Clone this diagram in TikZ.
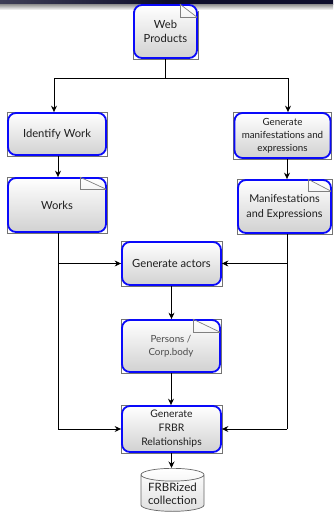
\documentclass[tikz,border=0pt]{standalone}
\usepackage{fontspec}
\setmainfont{Lato}
\usetikzlibrary{arrows.meta,shapes.geometric,backgrounds}

\definecolor{boxblue}{RGB}{10,10,250}
\definecolor{barnavy}{RGB}{14,14,44}
\definecolor{txt}{RGB}{30,30,30}

\tikzset{
  flowbox/.style={
    draw=boxblue, line width=1.8pt, rounded corners=8pt,
    top color=white, bottom color=black!18,
    text=txt, align=center, inner sep=1pt
  },
  boxframe/.style={draw=black!55, line width=0.6pt},
  foldline/.style={draw=black!50, line width=0.7pt},
  wire/.style={draw=black, line width=0.9pt},
  conn/.style={wire, -{Stealth[length=6.5pt,width=6pt,inset=2.2pt]}},
  bigtext/.style={font=\fontsize{11.2}{14}\selectfont},
  smalltext/.style={font=\fontsize{9.8}{13}\selectfont},
  store/.style={cylinder, shape border rotate=90, aspect=0.25,
    draw=black!60, line width=0.7pt, top color=white, bottom color=black!12,
    text=txt, align=center, inner sep=1pt,
    font=\fontsize{11.5}{13}\selectfont}
}

\begin{document}
\begin{tikzpicture}[x=1pt, y=-1pt]
\useasboundingbox (0,0) rectangle (333,517);

% header bar and its shadow
\shade[left color=barnavy!80!white, right color=barnavy, middle color=barnavy] (0,0) rectangle (333,4);
\shade[top color=black!45, bottom color=white] (0,4) rectangle (333,10);

% process and document boxes
\node[flowbox, bigtext, minimum width=63pt, minimum height=53pt] (webp) at (165.5,31.5) {Web\\Products};
\node[flowbox, bigtext, minimum width=98pt, minimum height=42pt] (idw) at (57,134) {Identify Work};
\node[flowbox, bigtext, minimum width=98pt, minimum height=54pt] (works) at (57,205) {Works};
\node[flowbox, smalltext, minimum width=96pt, minimum height=45pt] (genm) at (282.5,135.5) {Generate\\manifestations and\\expressions};
\node[flowbox, font=\fontsize{10.8}{15}\selectfont, minimum width=93pt, minimum height=53pt] (manif) at (284.5,206.5) {Manifestations\\and Expressions};
\node[flowbox, bigtext, minimum width=99pt, minimum height=43pt] (gact) at (171.5,263.5) {Generate actors};
\node[flowbox, smalltext, text=black!70, minimum width=98pt, minimum height=52pt] (pers) at (171,346) {Persons /\\Corp.body};
\node[flowbox, font=\fontsize{10.4}{14}\selectfont, minimum width=99pt, minimum height=46pt] (gfrbr) at (171.5,429) {Generate\\FRBR\\Relationships};
\node[store, minimum width=63pt, minimum height=43pt] (coll) at (172.5,494) {FRBRized\\collection};

% square frames peeking out behind the rounded boxes
\begin{scope}[on background layer]
  \foreach \n in {webp,idw,works,genm,manif,gact,pers,gfrbr}
    \draw[boxframe] (\n.south west) rectangle (\n.north east);
\end{scope}

% folded corners of the document boxes
\foreach \n/\w/\h in {webp/18/13, works/27/12, manif/24/12, pers/28/13}{
  \draw[foldline] ([xshift=-\w pt]\n.north east) -- ([xshift=-\w pt, yshift=-\h pt]\n.north east)
    -- ([xshift=-1pt, yshift=-\h pt]\n.north east);
  \draw[foldline] ([xshift=-\w pt]\n.north east) -- ([xshift=-1pt, yshift=-\h pt]\n.north east);
}

% split below the web products
\coordinate (split) at (165.5,78);
\coordinate (splitL) at (54,78);
\coordinate (splitR) at (288,78);
\draw[wire] (webp.south) -- (split);
\draw[wire] (splitL) -- (splitR);
\draw[conn] (splitL) -- (splitL |- idw.north);
\draw[conn] (splitR) -- (splitR |- genm.north);

% straight steps
\draw[conn] ([xshift=1pt]idw.south) -- ([xshift=1pt]works.north);
\draw[conn] ([xshift=4.5pt]genm.south) -- ([xshift=2.5pt]manif.north);
\draw[conn] (gact.south) -- (gact.south |- pers.north);
\draw[conn] (pers.south) -- (pers.south |- gfrbr.north);
\draw[conn] (gfrbr.south) -- (gfrbr.south |- coll.north);

% left bus from the works
\coordinate (lt) at ([xshift=1pt]works.south);
\draw[wire] (lt) -- (lt |- gfrbr.west);
\draw[conn] (lt |- gact.west) -- (gact.west);
\draw[conn] (lt |- gfrbr.west) -- (gfrbr.west);

% right bus from the manifestations
\coordinate (rt) at ([xshift=2.5pt]manif.south);
\draw[wire] (rt) -- (rt |- gfrbr.east);
\draw[conn] (rt |- gact.east) -- (gact.east);
\draw[conn] (rt |- gfrbr.east) -- (gfrbr.east);
\end{tikzpicture}
\end{document}
